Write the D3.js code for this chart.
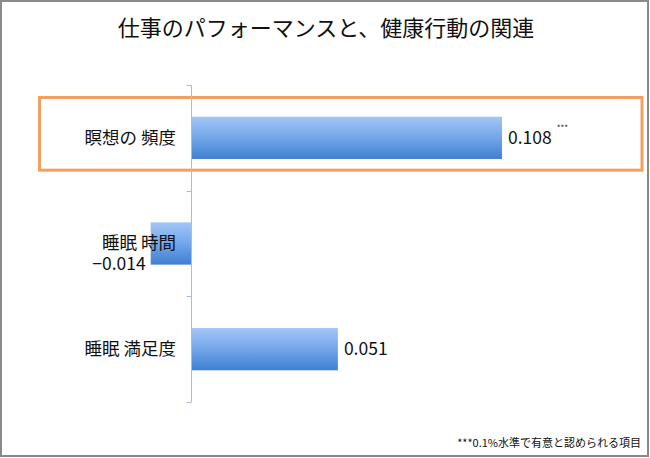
<!DOCTYPE html>
<html><head><meta charset="utf-8">
<script src="https://cdn.jsdelivr.net/npm/d3@7"></script>
<style>body{margin:0;background:#fff}svg{display:block}text{font-family:"Noto Sans CJK JP","Noto Sans",sans-serif}</style>
</head><body>
<script>
const title = "仕事のパフォーマンスと、健康行動の関連";
const categories = ["瞑想の 頻度", "睡眠 時間", "睡眠 満足度"];
const values = [0.108, -0.014, 0.051];
const valueLabels = ["0.108", "-0.014", "0.051"];
const significance = ["***", "", ""];
const highlighted = ["瞑想の 頻度"];
const footnote = "***0.1%水準で有意と認められる項目";

const W = 650, H = 458;
const svg = d3.select("body").append("svg").attr("width", W).attr("height", H);

const defs = svg.append("defs");
const grad = defs.append("linearGradient").attr("id", "barGrad").attr("x1", 0).attr("y1", 0).attr("x2", 0).attr("y2", 1);
grad.append("stop").attr("offset", "0%").attr("stop-color", "#a3c6f7");
grad.append("stop").attr("offset", "50%").attr("stop-color", "#73a6ea");
grad.append("stop").attr("offset", "100%").attr("stop-color", "#3f7fd2");

// outer border
svg.append("rect").attr("x", 1).attr("y", 1).attr("width", W - 3).attr("height", H - 3)
  .attr("fill", "#fff").attr("stroke", "#8a8a8a").attr("stroke-width", 2);

svg.append("text").attr("x", 326).attr("y", 36).attr("text-anchor", "middle")
  .attr("font-size", 22).attr("fill", "#111").text(title);

const x = d3.scaleLinear().domain([-0.02, 0.12]).range([133.4, 536.6]);
const y = d3.scaleBand().domain(categories).range([85, 402]).paddingInner(0.6).paddingOuter(0.3);
const step = y.step();

// highlight box
categories.forEach((c) => {
  if (highlighted.includes(c)) {
    svg.append("rect").attr("x", 39.5).attr("y", y(c) - step * 0.3 + 12.5)
      .attr("width", 602.5).attr("height", step - 33)
      .attr("fill", "none").attr("stroke", "#f0a060").attr("stroke-width", 3);
  }
});

// bars
svg.selectAll("rect.bar").data(values).join("rect").attr("class", "bar")
  .attr("x", d => x(Math.min(0, d)))
  .attr("y", (d, i) => y(categories[i]))
  .attr("width", d => Math.abs(x(d) - x(0)))
  .attr("height", y.bandwidth())
  .attr("fill", "url(#barGrad)");

// axis line
const axisG = svg.append("g");
const x0 = Math.round(x(0)) + 0.5;
axisG.append("line").attr("x1", x0).attr("x2", x0).attr("y1", 85).attr("y2", 402)
  .attr("stroke", "#a9bdd3").attr("stroke-width", 1);
const tickYs = [85].concat(categories.map(c => y(c) - step * 0.3 + step));
tickYs.forEach(t => {
  axisG.append("line").attr("x1", x0 - 5).attr("x2", x0).attr("y1", Math.round(t) + 0.5).attr("y2", Math.round(t) + 0.5)
    .attr("stroke", "#a9bdd3").attr("stroke-width", 1);
});

// category labels
categories.forEach((c, i) => {
  const cy = y(c) + y.bandwidth() / 2;
  svg.append("text").attr("x", 176).attr("y", cy + (values[i] < 0 ? -1 : 0)).attr("dy", "0.36em")
    .attr("text-anchor", "end").attr("font-size", 17.5).attr("fill", "#111").text(c);
});

// value labels
values.forEach((v, i) => {
  const cy = y(categories[i]) + y.bandwidth() / 2;
  if (v >= 0) {
    const t = svg.append("text").attr("x", x(v) + 6).attr("y", cy).attr("dy", "0.36em")
      .attr("font-size", 17.5).attr("fill", "#111").text(valueLabels[i]);
    if (significance[i]) {
      const bb = t.node().getBBox();
      svg.append("text").attr("x", bb.x + bb.width + 5).attr("y", cy - 7)
        .attr("font-family", "DejaVu Sans").attr("font-size", 8).attr("fill", "#111").text(significance[i]);
    }
  } else {
    svg.append("text").attr("x", x(v) - 5).attr("y", cy + 20).attr("dy", "0.36em")
      .attr("text-anchor", "end").attr("font-size", 17.5).attr("fill", "#111").text(valueLabels[i].replace("-", "−"));
  }
});

svg.append("text").attr("x", 641).attr("y", 447).attr("text-anchor", "end")
  .attr("font-size", 11).attr("fill", "#111").text(footnote);
</script>
</body></html>
